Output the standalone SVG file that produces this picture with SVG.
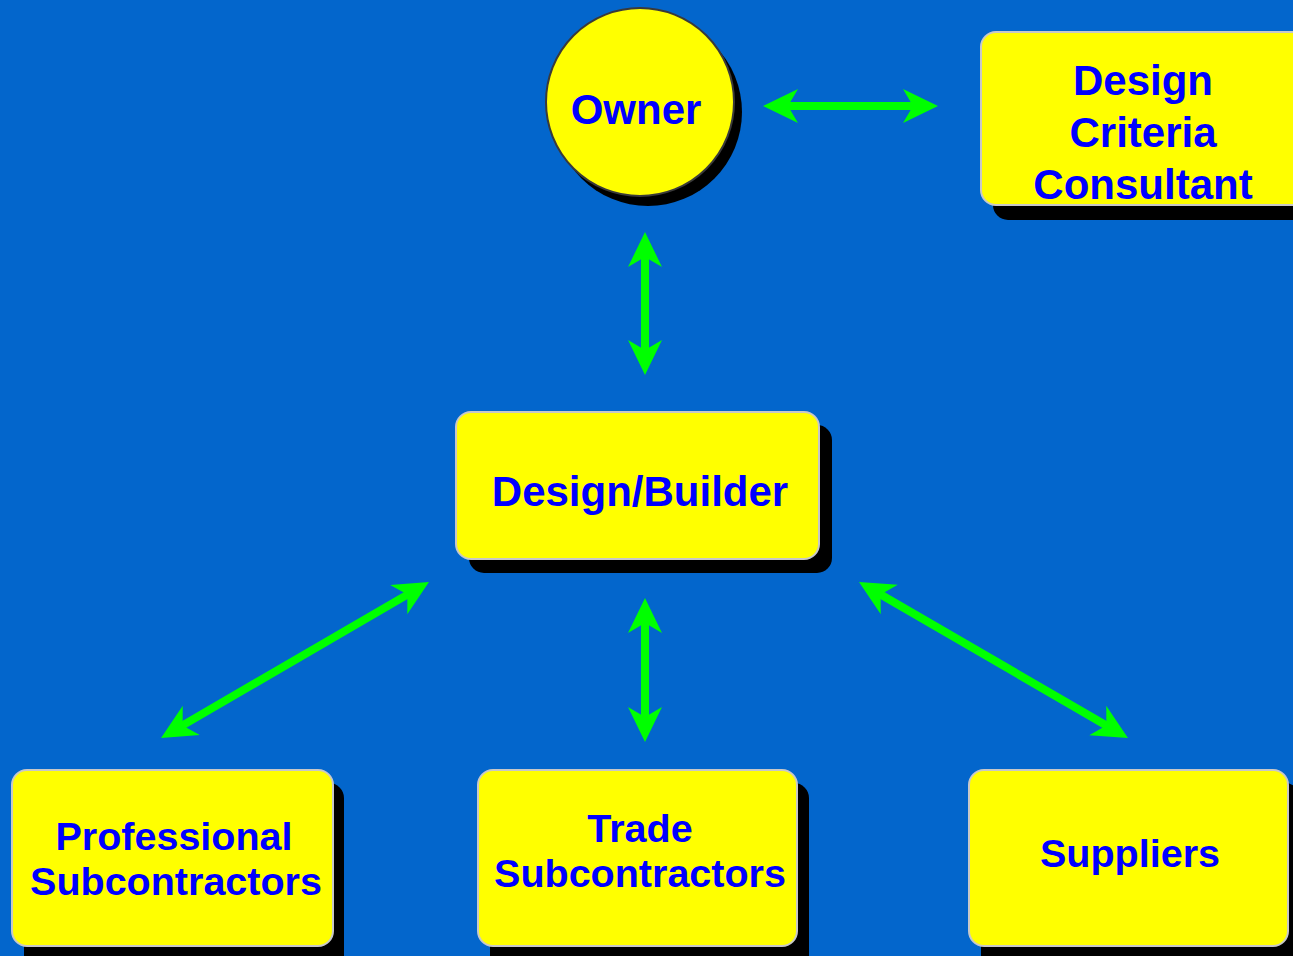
<svg xmlns="http://www.w3.org/2000/svg" width="1293" height="956" viewBox="0 0 1293 956">
<defs>
<style>
.bg{fill:#0366CC}
.shadow{fill:#000}
.box{fill:#FFFF00;stroke:#C8C8C8;stroke-width:2}
.circ{fill:#FFFF00;stroke:#3A3A3A;stroke-width:2}
.lbl{font-family:"Liberation Sans",Arial,sans-serif;font-weight:bold;fill:#0000FF;text-anchor:middle}
.big{font-size:42px}
.small{font-size:39.5px}
.conn{stroke:#00FF00;stroke-width:8;fill:none;marker-start:url(#ah);marker-end:url(#ah)}
</style>
<marker id="ah" markerUnits="userSpaceOnUse" markerWidth="36" markerHeight="36" viewBox="0 -18 36 36" refX="12" refY="0" orient="auto-start-reverse">
<path d="M35,0 L0,-17 L10,0 L0,17 Z" fill="#00FF00"/>
</marker>
</defs>
<rect class="bg" x="0" y="0" width="1293" height="956"/>

<g id="connectors">
<line class="conn" x1="786" y1="106" x2="915" y2="106"/>
<line class="conn" x1="645" y1="255" x2="645" y2="352"/>
<line class="conn" x1="645" y1="621" x2="645" y2="719"/>
<line class="conn" x1="409.1" y1="593.6" x2="180.9" y2="726.4"/>
<line class="conn" x1="878.9" y1="593.5" x2="1108.1" y2="726.5"/>
</g>

<g id="owner">
<circle class="shadow" cx="648" cy="112" r="94"/>
<circle class="circ" cx="640" cy="102" r="94"/>
<text class="lbl big" x="636" y="124" font-size="43">Owner</text>
</g>

<g id="design-criteria-consultant">
<rect class="shadow" x="993" y="45" width="320" height="175" rx="15"/>
<rect class="box" x="981" y="32" width="330" height="173" rx="15"/>
<text class="lbl big" x="1143" y="95">Design</text>
<text class="lbl big" x="1143" y="147">Criteria</text>
<text class="lbl big" x="1143" y="199">Consultant</text>
</g>

<g id="design-builder">
<rect class="shadow" x="469" y="425" width="363" height="148" rx="15"/>
<rect class="box" x="456" y="412" width="363" height="147" rx="15"/>
<text class="lbl big" x="640" y="506">Design/Builder</text>
</g>

<g id="professional-subcontractors">
<rect class="shadow" x="24" y="783" width="320" height="190" rx="15"/>
<rect class="box" x="12" y="770" width="321" height="176" rx="15"/>
<text class="lbl small" x="174" y="850">Professional</text>
<text class="lbl small" x="176" y="895">Subcontractors</text>
</g>

<g id="trade-subcontractors">
<rect class="shadow" x="490" y="783" width="319" height="190" rx="15"/>
<rect class="box" x="478" y="770" width="319" height="176" rx="15"/>
<text class="lbl small" x="640" y="842">Trade</text>
<text class="lbl small" x="640" y="887">Subcontractors</text>
</g>

<g id="suppliers">
<rect class="shadow" x="981" y="783" width="319" height="190" rx="15"/>
<rect class="box" x="969" y="770" width="319" height="176" rx="15"/>
<text class="lbl small" x="1130" y="867">Suppliers</text>
</g>
</svg>
